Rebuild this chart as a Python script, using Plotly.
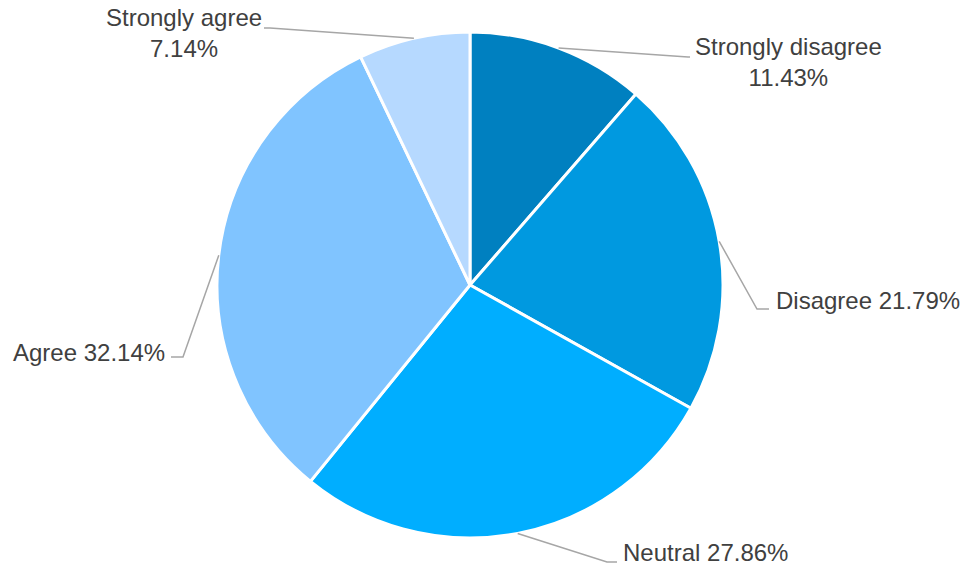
import math
import plotly.graph_objects as go

# Survey response shares (percent)
categories = ["Strongly disagree", "Disagree", "Neutral", "Agree", "Strongly agree"]
shares = [11.43, 21.79, 27.86, 32.14, 7.14]
colors = ["#0080C0", "#0099E0", "#00AEFF", "#80C4FF", "#B6D9FF"]

W, H = 962, 566
CX, CY, R = 470, 285, 253  # pie centre / radius in pixels

# Label layout: elbow point, end of horizontal tail, text anchor and alignment
label_style = {
    "Strongly disagree": dict(elbow=(688, 57), tail=(690, 57), text=(693, 62), xanchor="left", br=True),
    "Disagree": dict(elbow=(757, 309), tail=(769, 309), text=(774, 300), xanchor="left", br=False),
    "Neutral": dict(elbow=(607, 562), tail=(617, 562), text=(621, 552), xanchor="left", br=False),
    "Agree": dict(elbow=(183, 357), tail=(171, 357), text=(167, 352), xanchor="right", br=False),
    "Strongly agree": dict(elbow=(270, 28), tail=(264, 28), text=(264, 33), xanchor="right", br=True),
}

fig = go.Figure()
fig.add_trace(go.Pie(
    labels=categories,
    values=shares,
    sort=False,
    direction="clockwise",
    rotation=0,
    textinfo="none",
    hoverinfo="label+percent",
    marker=dict(colors=colors, line=dict(color="white", width=3)),
    domain=dict(x=[(CX - R) / W, (CX + R) / W],
                y=[(H - CY - R) / H, (H - CY + R) / H]),
    showlegend=False,
))

shapes = []
annotations = []
total = sum(shares)
cum = 0.0
for name, v in zip(categories, shares):
    mid = (cum + v / 2) / total * 2 * math.pi
    cum += v
    sx = CX + R * math.sin(mid)
    sy = CY - R * math.cos(mid)
    st = label_style[name]
    ex, ey = st["elbow"]
    tx, ty = st["tail"]
    shapes.append(dict(
        type="path", xref="x", yref="y",
        path=f"M {sx:.1f},{sy:.1f} L {ex},{ey} L {tx},{ty}",
        line=dict(color="#A6A6A6", width=1.5),
    ))
    pct = f"{v:.2f}%"
    text = f"{name}<br>{pct}" if st["br"] else f"{name} {pct}"
    annotations.append(dict(
        x=st["text"][0], y=st["text"][1], xref="x", yref="y",
        text=text, showarrow=False, xanchor=st["xanchor"], yanchor="middle",
        align="center", font=dict(family="Liberation Sans, Arial, sans-serif", size=24, color="#404040"),
    ))

fig.update_layout(
    width=W, height=H,
    margin=dict(l=0, r=0, t=0, b=0),
    paper_bgcolor="white", plot_bgcolor="white",
    xaxis=dict(range=[0, W], visible=False, fixedrange=True),
    yaxis=dict(range=[H, 0], visible=False, fixedrange=True),
    shapes=shapes,
    annotations=annotations,
)

fig.write_html("out.html")
